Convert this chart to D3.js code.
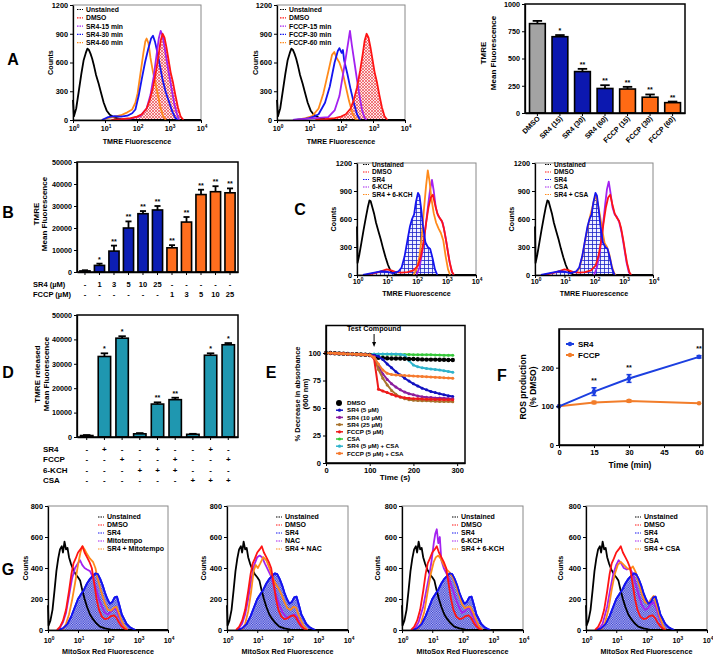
<!DOCTYPE html>
<html><head><meta charset="utf-8">
<script src="https://cdn.jsdelivr.net/npm/d3@7"></script>
<style>
body{margin:0;background:#fff}
svg{display:block}
text{font-family:'Liberation Sans',Arial,Helvetica,sans-serif;font-weight:bold;fill:#000}
</style>
</head><body>
<script>
// ---------------- DATA ----------------
// Histograms: [log10(fluorescence), counts]
const aUnstained = [[0,210],[0.03,40],[0.1,120],[0.18,300],[0.26,480],[0.33,620],[0.4,700],[0.45,745],[0.5,730],[0.55,690],[0.6,640],[0.66,560],[0.72,470],[0.8,380],[0.88,280],[0.96,180],[1.05,100],[1.15,55],[1.3,25],[1.5,10],[1.8,4],[2.2,0],[4,0]];
const aDMSO = [[1.2,0],[1.5,8],[1.8,20],[2.0,35],[2.15,60],[2.3,120],[2.4,210],[2.5,340],[2.6,520],[2.68,690],[2.74,830],[2.8,900],[2.86,860],[2.92,760],[2.98,640],[3.05,500],[3.12,400],[3.2,260],[3.28,130],[3.36,40],[3.45,0]];
const aSR4_15 = [[1.3,0],[1.8,15],[2.1,40],[2.3,120],[2.42,260],[2.52,450],[2.6,650],[2.68,850],[2.74,930],[2.8,880],[2.86,760],[2.94,600],[3.0,480],[3.08,330],[3.16,180],[3.24,70],[3.32,0]];
const aSR4_30 = [[0.9,0],[1.1,30],[1.3,40],[1.5,35],[1.7,45],[1.85,70],[1.95,110],[2.05,250],[2.15,430],[2.25,600],[2.35,740],[2.44,850],[2.5,880],[2.56,820],[2.64,700],[2.72,560],[2.8,420],[2.9,290],[3.0,190],[3.1,90],[3.2,20],[3.28,0]];
const aSR4_60 = [[0.9,0],[1.1,20],[1.3,35],[1.5,50],[1.7,80],[1.85,110],[1.95,180],[2.02,280],[2.08,420],[2.14,560],[2.2,700],[2.26,820],[2.3,850],[2.36,800],[2.42,650],[2.5,500],[2.58,380],[2.66,250],[2.74,120],[2.82,40],[2.9,0]];
const aFCCP_15 = [[0.5,0],[0.8,10],[1.2,20],[1.6,30],[1.8,100],[1.95,250],[2.05,450],[2.15,650],[2.22,800],[2.28,930],[2.34,780],[2.42,600],[2.5,420],[2.58,250],[2.66,100],[2.74,20],[2.8,0]];
const aFCCP_30 = [[0.5,0],[0.8,10],[1.0,20],[1.15,35],[1.3,60],[1.5,180],[1.65,350],[1.8,600],[1.9,720],[1.95,750],[2.02,700],[2.06,730],[2.1,620],[2.2,480],[2.3,320],[2.4,180],[2.5,60],[2.6,0]];
const aFCCP_60 = [[0.6,0],[0.9,20],[1.1,40],[1.3,120],[1.45,280],[1.6,500],[1.72,680],[1.79,710],[1.86,650],[1.95,600],[2.05,500],[2.15,350],[2.25,200],[2.35,80],[2.45,10],[2.55,0]];

const cUnstained = [[0,520],[0.02,130],[0.08,220],[0.15,350],[0.22,480],[0.3,620],[0.36,720],[0.42,800],[0.46,790],[0.52,720],[0.58,650],[0.64,560],[0.72,470],[0.8,380],[0.88,280],[0.96,190],[1.04,110],[1.12,50],[1.2,20],[1.3,5],[1.4,0],[4,0]];
const cDMSO = [[0.3,0],[0.6,20],[0.8,40],[1.0,60],[1.15,50],[1.3,30],[1.5,25],[1.7,30],[1.9,50],[2.05,100],[2.15,200],[2.25,380],[2.32,550],[2.4,720],[2.48,830],[2.55,860],[2.62,760],[2.7,660],[2.78,610],[2.85,580],[2.92,500],[3.0,360],[3.06,240],[3.12,130],[3.2,30],[3.26,0]];
const cSR4 = [[0.2,0],[0.5,20],[0.8,40],[1.0,35],[1.2,20],[1.4,40],[1.5,80],[1.6,200],[1.7,380],[1.78,520],[1.85,600],[1.92,650],[1.98,780],[2.05,880],[2.1,850],[2.16,700],[2.22,520],[2.3,350],[2.38,300],[2.46,280],[2.54,180],[2.62,60],[2.7,0]];
const cKCH = [[2.0,0],[2.1,80],[2.2,250],[2.3,500],[2.38,720],[2.45,900],[2.52,1020],[2.58,900],[2.65,720],[2.72,640],[2.8,600],[2.88,560],[2.95,450],[3.02,320],[3.1,160],[3.18,40],[3.25,0]];
const cSR4KCH = [[1.9,0],[2.0,60],[2.1,200],[2.18,420],[2.25,700],[2.32,950],[2.38,1120],[2.44,1000],[2.5,820],[2.58,660],[2.66,560],[2.74,500],[2.82,450],[2.9,370],[2.98,200],[3.06,60],[3.13,0]];
const cCSA = [[2.0,0],[2.1,80],[2.2,250],[2.3,520],[2.38,760],[2.44,920],[2.5,1000],[2.56,880],[2.63,720],[2.7,650],[2.78,620],[2.86,560],[2.94,450],[3.02,300],[3.1,140],[3.18,30],[3.25,0]];
const cSR4CSA = [[1.4,30],[1.5,70],[1.6,190],[1.7,370],[1.78,500],[1.86,620],[1.94,720],[2.0,800],[2.06,850],[2.12,780],[2.2,640],[2.28,480],[2.36,340],[2.44,300],[2.52,220],[2.6,100],[2.68,20],[2.74,0]];

const gUnstained = [[0,160],[0.02,30],[0.08,60],[0.15,130],[0.22,260],[0.28,380],[0.34,460],[0.4,520],[0.46,540],[0.5,500],[0.55,570],[0.6,520],[0.65,530],[0.7,470],[0.76,430],[0.84,390],[0.92,360],[1.0,340],[1.07,320],[1.14,260],[1.22,200],[1.3,150],[1.4,100],[1.5,70],[1.6,45],[1.73,22],[1.9,10],[2.1,3],[2.4,0],[4,0]];
const gDMSO = [[0.3,0],[0.4,20],[0.5,60],[0.6,130],[0.7,250],[0.78,360],[0.85,430],[0.92,460],[1.0,500],[1.08,520],[1.15,540],[1.22,500],[1.3,470],[1.38,440],[1.46,400],[1.54,300],[1.62,200],[1.7,130],[1.8,85],[1.9,70],[2.0,75],[2.1,90],[2.2,95],[2.28,80],[2.36,50],[2.45,25],[2.55,8],[2.65,0]];
const gSR4 = [[0.3,0],[0.5,10],[0.65,40],[0.78,90],[0.9,150],[1.0,200],[1.1,230],[1.2,260],[1.3,300],[1.4,330],[1.5,350],[1.58,365],[1.66,360],[1.74,330],[1.82,290],[1.9,240],[1.98,200],[2.06,170],[2.14,180],[2.22,210],[2.3,215],[2.38,160],[2.46,100],[2.54,70],[2.62,40],[2.72,20],[2.82,8],[2.92,0]];
const gMito = [[0.35,0],[0.5,50],[0.6,110],[0.7,220],[0.8,330],[0.9,400],[1.0,430],[1.07,450],[1.14,420],[1.22,400],[1.3,390],[1.4,380],[1.5,340],[1.6,270],[1.7,200],[1.8,150],[1.9,110],[2.0,100],[2.1,120],[2.2,140],[2.28,130],[2.36,90],[2.45,50],[2.55,20],[2.65,0]];
const gMitoSR4 = [[0.5,0],[0.6,40],[0.7,100],[0.8,190],[0.9,300],[1.0,420],[1.08,500],[1.15,540],[1.22,520],[1.3,490],[1.4,460],[1.5,440],[1.58,400],[1.66,330],[1.74,270],[1.82,220],[1.9,170],[2.0,130],[2.1,125],[2.2,145],[2.28,150],[2.36,110],[2.45,60],[2.55,25],[2.65,0]];
const gNAC = [[0.35,0],[0.5,40],[0.6,100],[0.7,200],[0.8,320],[0.9,420],[1.0,470],[1.08,480],[1.16,470],[1.25,430],[1.35,390],[1.45,350],[1.55,280],[1.65,210],[1.75,150],[1.85,110],[1.95,85],[2.05,80],[2.15,95],[2.24,100],[2.32,80],[2.42,45],[2.52,15],[2.62,0]];
const gNACSR4 = [[0.5,0],[0.6,40],[0.7,120],[0.8,250],[0.88,380],[0.95,420],[1.02,400],[1.1,430],[1.2,470],[1.3,450],[1.4,400],[1.5,340],[1.6,300],[1.7,270],[1.8,230],[1.9,180],[2.0,140],[2.1,130],[2.2,150],[2.28,145],[2.36,100],[2.46,55],[2.56,20],[2.66,0]];
const gKCH = [[0.4,0],[0.55,50],[0.7,150],[0.8,250],[0.9,350],[0.98,450],[1.05,560],[1.1,620],[1.15,650],[1.2,560],[1.25,600],[1.3,450],[1.38,400],[1.48,360],[1.58,320],[1.68,260],[1.78,200],[1.88,150],[1.98,110],[2.08,120],[2.18,145],[2.26,130],[2.34,90],[2.44,50],[2.54,20],[2.64,0]];
const gKCHSR4 = [[0.5,0],[0.62,40],[0.74,120],[0.85,250],[0.95,360],[1.05,440],[1.12,470],[1.2,480],[1.28,460],[1.38,420],[1.48,390],[1.58,370],[1.68,340],[1.78,290],[1.88,230],[1.98,170],[2.08,140],[2.18,150],[2.26,150],[2.36,110],[2.46,60],[2.56,20],[2.66,0]];
const gCSA = [[0.4,0],[0.55,40],[0.7,150],[0.8,260],[0.9,360],[1.0,420],[1.08,450],[1.16,430],[1.25,400],[1.35,390],[1.45,400],[1.55,360],[1.65,290],[1.75,220],[1.85,160],[1.95,130],[2.05,140],[2.15,170],[2.24,180],[2.32,140],[2.42,80],[2.52,30],[2.62,0]];
const gCSASR4 = [[0.5,0],[0.62,40],[0.74,130],[0.85,260],[0.95,360],[1.05,420],[1.15,440],[1.25,420],[1.35,400],[1.45,390],[1.55,410],[1.65,370],[1.75,300],[1.85,230],[1.95,180],[2.05,170],[2.15,200],[2.24,220],[2.32,170],[2.42,100],[2.52,40],[2.62,0]];

// Bar chart A (right)
const a3Labels = ["DMSO","SR4 (15)","SR4 (30)","SR4 (60)","FCCP (15)","FCCP (30)","FCCP (60)"];
const a3Values = [820,700,380,225,220,145,95];
const a3Errors = [25,15,25,30,20,25,10];
const a3Stars  = ["","*","**","**","**","**","**"];

// Bar chart B
const bSR4Row  = ["-","1","3","5","10","25","-","-","-","-","-"];
const bFCCPRow = ["-","-","-","-","-","-","1","3","5","10","25"];
const bValues = [500,3000,9500,20000,26500,28200,11000,22700,35200,36500,36000];
const bErrors = [300,800,2500,3000,1200,1800,1200,2300,2200,2500,2000];
const bStars  = ["","*","**","**","**","**","**","**","**","**","**"];

// Bar chart D
const dValues = [600,33000,40500,1300,13500,15300,1100,33500,37800];
const dErrors = [200,1300,800,300,700,800,200,800,700];
const dStars  = ["","*","*","","**","**","","*","*"];
const dRowNames = ["SR4","FCCP","6-KCH","CSA"];
const dRows = [
  ["-","+","-","-","+","-","-","+","-"],
  ["-","-","+","-","-","+","-","-","+"],
  ["-","-","-","+","+","+","-","-","-"],
  ["-","-","-","-","-","-","+","+","+"]
];

// Panel E
const eTime = [0,10,20,30,40,50,60,70,80,90,100,110,120,130,140,150,160,170,180,190,200,210,220,230,240,250,260,270,280,290];
const eDMSO    = [100,100,99.8,99.6,99.4,99.2,99,98.8,98.6,98.4,98.2,97,95.6,95.5,95.2,95,95,95,94.8,94.6,94.5,94.3,94.2,94,94,94,93.8,93.8,93.7,93.6];
const eSR4_5   = [100,100,99.8,99.6,99.4,99.2,99,98.8,98.6,98.4,98.2,98,97,94,90,86.5,83,80,77,74.5,72,70,68,66.5,65,64,63,62,61.2,60.5];
const eSR4_10  = [100,100,99.8,99.6,99.4,99.2,99,98.8,98.6,98.4,98.2,97,88,81,76,72,69,66.5,64.5,63,62,61,60.3,59.8,59.5,59.2,59,58.8,58.6,58.5];
const eSR4_25  = [100,100,99.8,99.6,99.4,99.2,99,98.8,98.6,98.4,98.2,96,85,77,71,66,62.5,60,58.5,57.5,57,56.8,56.6,56.5,56.3,56.2,56,55.9,55.8,55.6];
const eFCCP    = [100,100,99.8,99.6,99.4,99.2,99,98.8,98.6,98.4,98.2,95,67,65.5,64,62.5,61,60,59.3,58.8,58.5,58.3,58.1,58,57.9,57.8,57.7,57.6,57.5,57.5];
const eCSA     = [100,100,99.8,99.6,99.4,99.2,99,98.8,98.8,98.8,98.8,98.8,98.8,98.8,98.8,98.8,98.7,98.7,98.6,98.6,98.5,98.5,98.4,98.4,98.3,98.2,98.1,98,98,97.9];
const eSR4CSA  = [100,100,99.8,99.6,99.4,99.2,99,98.8,98.8,98.8,98.8,99,99.2,99.2,99.2,99.1,99,98.8,98,93,89,87.5,86.5,86,85.5,85,84.5,83.8,83.2,82.5];
const eFCCPCSA = [100,100,99.8,99.6,99.4,99.2,99,98.8,98.6,98.4,98.2,96,90,84.5,81.5,80.5,80,79.8,79.5,79.3,79,78.8,78.6,78.4,78.2,78,77.8,77.5,77.3,77];
const eNames = ["DMSO","SR4 (5 µM)","SR4 (10 µM)","SR4 (25 µM)","FCCP (5 µM)","CSA","SR4 (5 µM) + CSA","FCCP (5 µM) + CSA"];

// Panel F
const fTime = [0,15,30,60];
const fSR4 = [100,138,172,228];
const fSR4Err = [0,10,10,3];
const fFCCP = [100,110,114,108];
const fFCCPErr = [0,3,3,2];
const fStars = ["","**","**","**"];

// ---------------- DRAWING ----------------
const FMT = d3.format("d");
const svg = d3.select("body").append("svg").attr("width",713).attr("height",658);
const defs = svg.append("defs");
const p1 = defs.append("pattern").attr("id","redHatch").attr("patternUnits","userSpaceOnUse").attr("width",3).attr("height",3);
p1.append("rect").attr("width",3).attr("height",3).attr("fill","#fde6e6");
p1.append("path").attr("d","M0,0L3,3M3,0L0,3").attr("stroke","#e8303a").attr("stroke-width",0.6);
const p2 = defs.append("pattern").attr("id","blueGrid").attr("patternUnits","userSpaceOnUse").attr("width",4).attr("height",4);
p2.append("rect").attr("width",4).attr("height",4).attr("fill","#eef0ff");
p2.append("path").attr("d","M0,0.5H4M0.5,0V4").attr("stroke","#1a22c8").attr("stroke-width",0.8);
const p3 = defs.append("pattern").attr("id","blueDots").attr("patternUnits","userSpaceOnUse").attr("width",2.4).attr("height",2.4);
p3.append("rect").attr("width",2.4).attr("height",2.4).attr("fill","#c6c9f2");
p3.append("rect").attr("width",1.2).attr("height",1.2).attr("fill","#2a30d0");
p3.append("rect").attr("x",1.2).attr("y",1.2).attr("width",1.2).attr("height",1.2).attr("fill","#2a30d0");

const BLACK="#000", RED="#ff1414", VIOLET="#a321f0", BLUE="#1414f0", ORANGE="#ff8a1a";

function text(g,x,y,s,fs,anchor,rot){
  const t=g.append("text").attr("x",x).attr("y",y).attr("font-size",fs).attr("text-anchor",anchor||"middle").text(s);
  if(rot) t.attr("transform",`rotate(${rot},${x},${y})`);
  return t;
}
function styleAxis(g,fs){
  g.selectAll("text").attr("font-size",fs||7.5).attr("fill","#000");
  g.selectAll(".tick line").attr("stroke","#000").attr("stroke-width",1);
  g.select(".domain").attr("stroke","#000").attr("stroke-width",1.3);
}
function letter(s,x,y){ text(svg,x,y,s,16,"middle"); }

function hist(o){
  const g=svg.append("g");
  const x=d3.scaleLog().domain([1,1e4]).range([o.x0,o.x1]);
  const y=d3.scaleLinear().domain([0,o.ymax]).range([o.y1,o.y0]);
  g.append("rect").attr("x",o.x0).attr("y",o.y0).attr("width",o.x1-o.x0).attr("height",o.y1-o.y0)
    .attr("fill","none").attr("stroke","#888").attr("stroke-width",1);
  const line=d3.line().x(d=>x(Math.pow(10,d[0]))).y(d=>y(d[1]));
  const area=d3.area().x(d=>x(Math.pow(10,d[0]))).y0(y(0)).y1(d=>y(d[1]));
  o.curves.forEach(c=>{ if(c.fill) g.append("path").attr("d",area(c.data)).attr("fill",c.fill); });
  o.curves.forEach(c=>{ g.append("path").attr("d",line(c.data)).attr("fill","none").attr("stroke",c.color)
      .attr("stroke-width",1.8).attr("stroke-linejoin","round"); });
  const ya=g.append("g").attr("transform",`translate(${o.x0},0)`)
    .call(d3.axisLeft(y).tickValues(o.yticks).tickFormat(FMT).tickSize(3).tickPadding(2).tickSizeOuter(0));
  styleAxis(ya,7.3);
  const xa=g.append("g").attr("transform",`translate(0,${o.y1})`)
    .call(d3.axisBottom(x).tickValues([1,10,100,1000,10000]).tickFormat("").tickSize(3).tickSizeOuter(0));
  styleAxis(xa);
  [0,1,2,3,4].forEach(p=>{
    const t=g.append("text").attr("x",x(Math.pow(10,p))+1).attr("y",o.xtY).attr("font-size",7.2).attr("text-anchor","middle");
    t.append("tspan").text("10");
    t.append("tspan").attr("font-size",4.8).attr("dy",-3).text(p);
  });
  text(g,(o.x0+o.x1)/2,o.xtitleY,o.xtitle,7.2,"middle");
  text(g,o.ytitleX+2.6,(o.y0+o.y1)/2,"Counts",7.2,"middle",-90);
  o.legend.forEach((it,i)=>{
    const yy=o.ly+i*o.lsp;
    g.append("line").attr("x1",o.lx).attr("x2",o.lx+6).attr("y1",yy).attr("y2",yy)
      .attr("stroke",it[1]).attr("stroke-width",1.2).attr("stroke-dasharray","1.5,1");
    text(g,o.lx+9,yy+2.4,it[0],o.lfs,"start");
  });
}

// ---- Panel A histograms
const aLegBase=[["Unstained",BLACK],["DMSO",RED]];
hist({x0:73,x1:201,y0:5,y1:120,ymax:1200,yticks:[0,300,600,900,1200],xtY:131,xtitleY:143.5,xtitle:"TMRE Fluorescence",ytitleX:50,
  curves:[{data:aUnstained,color:BLACK},{data:aSR4_60,color:ORANGE},{data:aSR4_30,color:BLUE},{data:aSR4_15,color:VIOLET},{data:aDMSO,color:RED,fill:"url(#redHatch)"}],
  lx:77,ly:9.5,lsp:8.3,lfs:6.8,legend:aLegBase.concat([["SR4-15 min",VIOLET],["SR4-30 min",BLUE],["SR4-60 min",ORANGE]])});
hist({x0:277,x1:405,y0:5,y1:120,ymax:1200,yticks:[0,300,600,900,1200],xtY:131,xtitleY:143.5,xtitle:"TMRE Fluorescence",ytitleX:255,
  curves:[{data:aUnstained,color:BLACK},{data:aFCCP_60,color:ORANGE},{data:aFCCP_30,color:BLUE},{data:aFCCP_15,color:VIOLET},{data:aDMSO,color:RED,fill:"url(#redHatch)"}],
  lx:280,ly:9.5,lsp:8.3,lfs:6.8,legend:aLegBase.concat([["FCCP-15 min",VIOLET],["FCCP-30 min",BLUE],["FCCP-60 min",ORANGE]])});

// ---- Panel C histograms
const cLegBase=[["Unstained",BLACK],["DMSO",RED],["SR4",BLUE]];
hist({x0:357,x1:476,y0:163,y1:275,ymax:1200,yticks:[0,300,600,900,1200],xtY:283.5,xtitleY:296,xtitle:"TMRE Fluorescence",ytitleX:333,
  curves:[{data:cUnstained,color:BLACK},{data:cKCH,color:VIOLET},{data:cSR4KCH,color:ORANGE},{data:cDMSO,color:RED},{data:cSR4,color:BLUE,fill:"url(#blueGrid)"}],
  lx:363,ly:164.5,lsp:7.5,lfs:6.6,legend:cLegBase.concat([["6-KCH",VIOLET],["SR4 + 6-KCH",ORANGE]])});
hist({x0:535,x1:653,y0:163,y1:275,ymax:1200,yticks:[0,300,600,900,1200],xtY:283.5,xtitleY:296,xtitle:"TMRE Fluorescence",ytitleX:511,
  curves:[{data:cUnstained,color:BLACK},{data:cSR4CSA,color:ORANGE},{data:cCSA,color:VIOLET},{data:cDMSO,color:RED},{data:cSR4,color:BLUE,fill:"url(#blueGrid)"}],
  lx:545,ly:164.5,lsp:7.5,lfs:6.6,legend:cLegBase.concat([["CSA",VIOLET],["SR4 + CSA",ORANGE]])});

// ---- Panel G histograms
const gSets=[
  {x0:48,x1:168,yt:25,lx:98,v:gMito,o:gMitoSR4,n:"Mitotempo"},
  {x0:227,x1:348,yt:203,lx:276,v:gNAC,o:gNACSR4,n:"NAC"},
  {x0:402,x1:523,yt:377,lx:452,v:gKCH,o:gKCHSR4,n:"6-KCH"},
  {x0:586,x1:707,yt:560,lx:635,v:gCSA,o:gCSASR4,n:"CSA"}
];
gSets.forEach(s=>{
  hist({x0:s.x0,x1:s.x1,y0:506,y1:630,ymax:800,yticks:[0,200,400,600,800],xtY:642.5,xtitleY:653.5,xtitle:"MitoSox Red Fluorescence",ytitleX:s.yt,
    curves:[{data:gSR4,color:BLUE,fill:"url(#blueDots)"},{data:gUnstained,color:BLACK},{data:s.v,color:VIOLET},{data:s.o,color:ORANGE},{data:gSR4,color:BLUE},{data:gDMSO,color:RED}],
    lx:s.lx,ly:517,lsp:8,lfs:7,legend:[["Unstained",BLACK],["DMSO",RED],["SR4",BLUE],[s.n,VIOLET],["SR4 + "+s.n,ORANGE]]});
});

// ---- Bar chart helper
function bars(o){
  const g=svg.append("g");
  const x=d3.scaleBand().domain(d3.range(o.values.length)).range([o.x0,o.x1]).paddingInner(0.3).paddingOuter(0.2);
  const y=d3.scaleLinear().domain([0,o.ymax]).range([o.y1,o.y0]);
  const bw=x.bandwidth();
  o.values.forEach((v,i)=>{
    const cx=x(i)+bw/2, top=y(v+o.errors[i]);
    g.append("line").attr("x1",cx).attr("x2",cx).attr("y1",y(v)).attr("y2",top).attr("stroke","#000").attr("stroke-width",1.8);
    g.append("line").attr("x1",cx-bw*0.3).attr("x2",cx+bw*0.3).attr("y1",top).attr("y2",top).attr("stroke","#000").attr("stroke-width",1.8);
    g.append("rect").attr("x",x(i)).attr("y",y(v)).attr("width",bw).attr("height",y(0)-y(v))
      .attr("fill",o.colors[i]).attr("stroke","#000").attr("stroke-width",1.6);
    if(o.stars[i]) text(g,cx,top-2,o.stars[i],7,"middle");
  });
  g.append("rect").attr("x",o.x0).attr("y",o.y0).attr("width",o.x1-o.x0).attr("height",o.y1-o.y0)
    .attr("fill","none").attr("stroke","#000").attr("stroke-width",1.5);
  const ya=g.append("g").attr("transform",`translate(${o.x0},0)`)
    .call(d3.axisLeft(y).tickValues(o.yticks).tickFormat(FMT).tickSize(3).tickPadding(2).tickSizeOuter(0));
  styleAxis(ya,7.2);
  const xa=g.append("g").attr("transform",`translate(0,${o.y1})`)
    .call(d3.axisBottom(x).tickFormat("").tickSize(3).tickSizeOuter(0));
  styleAxis(xa);
  return {g,x,bw};
}

// A3
const A3=bars({x0:525,x1:685,y0:4,y1:113,ymax:1000,yticks:[0,250,500,750,1000],values:a3Values,errors:a3Errors,stars:a3Stars,
  colors:["#a3a3a3","#0c18b0","#0c18b0","#0c18b0","#ff6a14","#ff6a14","#ff6a14"]});
a3Labels.forEach((l,i)=>{
  const cx=A3.x(i)+A3.bw/2+3;
  text(svg,cx,119,l,7.2,"end",-45);
});
text(svg,485.5,53,"TMRE",8,"middle",-90);
text(svg,495.5,53,"Mean Fluorescence",8,"middle",-90);

// B
const B=bars({x0:77,x1:238,y0:162,y1:272,ymax:50000,yticks:[0,10000,20000,30000,40000,50000],values:bValues,errors:bErrors,stars:bStars,
  colors:["#0c1eb4","#0c1eb4","#0c1eb4","#0c1eb4","#0c1eb4","#0c1eb4","#ff6e1e","#ff6e1e","#ff6e1e","#ff6e1e","#ff6e1e"]});
text(svg,33,287,"SR4 (µM)",7.5,"start");
text(svg,33,297,"FCCP (µM)",7.5,"start");
bSR4Row.forEach((s,i)=>text(svg,B.x(i)+B.bw/2,287,s,7.5,"middle"));
bFCCPRow.forEach((s,i)=>text(svg,B.x(i)+B.bw/2,297,s,7.5,"middle"));
text(svg,38.5,214,"TMRE",8,"middle",-90);
text(svg,47,214,"Mean Fluorescence",8,"middle",-90);

// D
const D=bars({x0:77,x1:238,y0:315,y1:437,ymax:50000,yticks:[0,10000,20000,30000,40000,50000],values:dValues,errors:dErrors,stars:dStars,
  colors:dValues.map(()=> "#1f97b0")});
dRowNames.forEach((n,r)=>{
  const yy=451.5+r*10.5;
  text(svg,43,yy,n,8,"start");
  dRows[r].forEach((s,i)=>text(svg,D.x(i)+D.bw/2,yy,s,8,"middle"));
});
text(svg,39.5,374,"TMRE released",8,"middle",-90);
text(svg,48.5,374,"Mean Fluorescence",8,"middle",-90);

// ---- Panel E
(function(){
  const g=svg.append("g");
  const x=d3.scaleLinear().domain([0,318]).range([326,465]);
  const y=d3.scaleLinear().domain([0,125]).range([463,325.5]);
  const series=[
    {v:eCSA,c:"#36c83a"},{v:eSR4CSA,c:"#2fb3cc"},{v:eDMSO,c:"#000"},{v:eSR4_5,c:"#1212c0"},
    {v:eSR4_10,c:"#8c1e9e"},{v:eSR4_25,c:"#a8742e"},{v:eFCCP,c:"#ee1a1a"},{v:eFCCPCSA,c:"#f57a2e"}
  ];
  const line=d3.line().x((d,i)=>x(eTime[i])).y(d=>y(d));
  series.forEach(s=>{
    g.append("path").attr("d",line(s.v)).attr("fill","none").attr("stroke",s.c).attr("stroke-width",2);
    g.selectAll(null).data(s.v).enter().append("circle").attr("cx",(d,i)=>x(eTime[i])).attr("cy",d=>y(d))
      .attr("r",s.v===eDMSO?2.2:1.5).attr("fill",s.c);
  });
  g.append("rect").attr("x",326).attr("y",325.5).attr("width",139).attr("height",137.5).attr("fill","none").attr("stroke","#000").attr("stroke-width",1.5);
  const ya=g.append("g").attr("transform","translate(326,0)").call(d3.axisLeft(y).tickValues([0,25,50,75,100]).tickFormat(FMT).tickSize(3).tickPadding(2).tickSizeOuter(0));
  styleAxis(ya,7.5);
  const xa=g.append("g").attr("transform","translate(0,463)").call(d3.axisBottom(x).tickValues([0,100,200,300]).tickFormat(FMT).tickSize(3).tickPadding(2).tickSizeOuter(0));
  styleAxis(xa,7.5);
  text(g,x(110),331,"Test Compound",7.2,"middle");
  g.append("line").attr("x1",x(110)).attr("x2",x(110)).attr("y1",334).attr("y2",344).attr("stroke","#000").attr("stroke-width",1);
  g.append("path").attr("d",`M${x(110)-2},${342}L${x(110)},${347}L${x(110)+2},${342}Z`).attr("fill","#000");
  text(g,395,480,"Time (s)",8,"middle");
  text(g,299.5,394,"% Decrease in absorbance",7.5,"middle",-90);
  text(g,308,394,"(600 nm)",7.5,"middle",-90);
  const legC=["#000","#1212c0","#8c1e9e","#a8742e","#ee1a1a","#36c83a","#2fb3cc","#f57a2e"];
  eNames.forEach((n,i)=>{
    const yy=403+i*7.2;
    if(i===0) g.append("circle").attr("cx",339).attr("cy",yy).attr("r",3).attr("fill","#000");
    else { g.append("line").attr("x1",336).attr("x2",343).attr("y1",yy).attr("y2",yy).attr("stroke",legC[i]).attr("stroke-width",1.5);
           g.append("circle").attr("cx",339.5).attr("cy",yy).attr("r",1.6).attr("fill",legC[i]); }
    text(g,347,yy+2.2,n,6.2,"start");
  });
})();

// ---- Panel F
(function(){
  const g=svg.append("g");
  const x=d3.scaleLinear().domain([0,61.7]).range([559,703]);
  const y=d3.scaleLinear().domain([0,300]).range([445,329]);
  const line=d3.line().x((d,i)=>x(fTime[i])).y(d=>y(d));
  const draw=(vals,errs,c)=>{
    g.append("path").attr("d",line(vals)).attr("fill","none").attr("stroke",c).attr("stroke-width",2);
    vals.forEach((v,i)=>{
      if(errs[i]>2){
        g.append("line").attr("x1",x(fTime[i])).attr("x2",x(fTime[i])).attr("y1",y(v-errs[i])).attr("y2",y(v+errs[i])).attr("stroke",c).attr("stroke-width",2.5);
        [v-errs[i],v+errs[i]].forEach(e=>g.append("line").attr("x1",x(fTime[i])-2.5).attr("x2",x(fTime[i])+2.5).attr("y1",y(e)).attr("y2",y(e)).attr("stroke",c).attr("stroke-width",1.5));
      }
      g.append("circle").attr("cx",x(fTime[i])).attr("cy",y(v)).attr("r",2.3).attr("fill",c);
    });
  };
  draw(fFCCP,fFCCPErr,"#f27d2a");
  draw(fSR4,fSR4Err,"#1c3fe0");
  fSR4.forEach((v,i)=>{ if(fStars[i]) text(g,x(fTime[i]),y(v+fSR4Err[i])-5,fStars[i],7,"middle"); });
  g.append("rect").attr("x",559).attr("y",329).attr("width",144).attr("height",116).attr("fill","none").attr("stroke","#000").attr("stroke-width",1.5);
  const ya=g.append("g").attr("transform","translate(559,0)").call(d3.axisLeft(y).tickValues([0,100,200]).tickFormat(FMT).tickSize(3).tickPadding(2).tickSizeOuter(0));
  styleAxis(ya,7.5);
  const xa=g.append("g").attr("transform","translate(0,445)").call(d3.axisBottom(x).tickValues([0,15,30,45,60]).tickFormat(FMT).tickSize(3).tickPadding(2).tickSizeOuter(0));
  styleAxis(xa,7.5);
  text(g,630,468,"Time (min)",8.5,"middle");
  text(g,526,387,"ROS production",8.5,"middle",-90);
  text(g,536,387,"(% DMSO)",8.5,"middle",-90);
  [["SR4","#1c3fe0"],["FCCP","#f27d2a"]].forEach((it,i)=>{
    const yy=344+i*11;
    g.append("line").attr("x1",566).attr("x2",574).attr("y1",yy).attr("y2",yy).attr("stroke",it[1]).attr("stroke-width",2);
    g.append("circle").attr("cx",570).attr("cy",yy).attr("r",2.2).attr("fill",it[1]);
    text(g,578,yy+3,it[0],8,"start");
  });
})();

// ---- Panel letters
letter("A",13,65); letter("B",8,218); letter("C",300,215); letter("D",8,378);
letter("E",271,378); letter("F",502,381); letter("G",8,575);
</script>
</body></html>
